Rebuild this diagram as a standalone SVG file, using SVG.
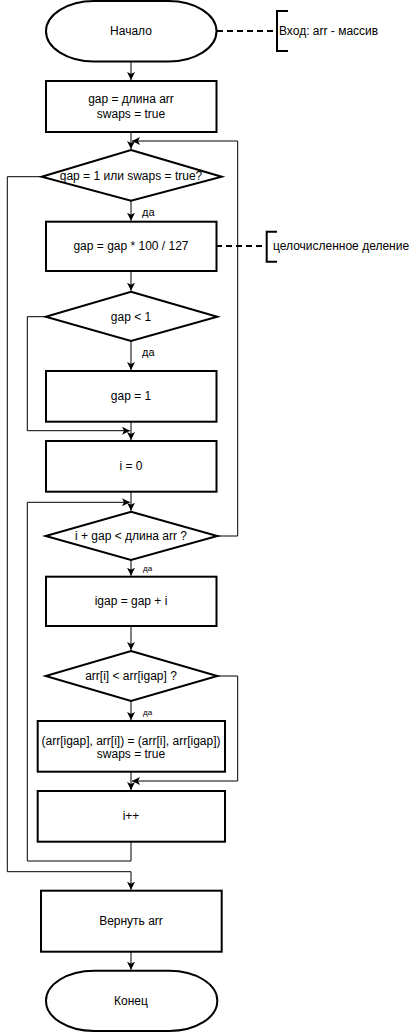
<svg xmlns="http://www.w3.org/2000/svg" width="417" height="1032" viewBox="0 0 417 1032">
<style>
.s{fill:#fff;stroke:#000;stroke-width:2}
.c{fill:none;stroke:#000;stroke-width:1}
.a{marker-end:url(#arr)}
.d{fill:none;stroke:#000;stroke-width:2;stroke-dasharray:6 4}
.b{fill:none;stroke:#000;stroke-width:2}
text{font-family:"Liberation Sans",Arial,sans-serif;font-size:12px;fill:#000;text-anchor:middle;dominant-baseline:central}
.l{text-anchor:start}
.sm{font-size:8px;text-anchor:start}
.yl{font-size:11px;text-anchor:start}
</style>
<defs>
<marker id="arr" markerUnits="userSpaceOnUse" markerWidth="10" markerHeight="10" refX="8" refY="4" orient="auto">
<path d="M0,0 L8,4 L0,8 L2,4 z" fill="#000"/>
</marker>
</defs>
<g id="connectors">
<path class="c a" d="M131,62 V80"/>
<path class="c a" d="M131,132 V149"/>
<path class="c a" d="M217.3,536 H237.7 V141 H132"/>
<path class="c a" d="M131,200.7 V220.7"/>
<path class="c a" d="M131,271 V290.7"/>
<path class="c a" d="M131,341 V370"/>
<path class="c a" d="M45.7,316.7 H27.3 V430.7 H130"/>
<path class="c a" d="M131,421.7 V440"/>
<path class="c a" d="M131,491.7 V510.7"/>
<path class="c a" d="M131,560 V575.7"/>
<path class="c a" d="M131,626 V650"/>
<path class="c a" d="M131,701 V720"/>
<path class="c a" d="M217.3,676 H237.7 V781 H132"/>
<path class="c a" d="M131,771.7 V790"/>
<path class="c a" d="M131,841.7 V861 H27.3 V502.3 H130"/>
<path class="c a" d="M41.7,176.7 H7.3 V871.7 H131 V889.7"/>
<path class="c a" d="M131,951.7 V969.7"/>
<text class="yl" x="142" y="212">да</text>
<text class="yl" x="142" y="352">да</text>
<text class="sm" x="143" y="568">да</text>
<text class="sm" x="143" y="712">да</text>
</g>
<g id="note-input">
<path class="d" d="M217,31 H276"/>
<path class="b" d="M288,11 H277 V51 H288"/>
<text class="l" x="279" y="31">Вход: arr - массив</text>
</g>
<g id="note-div">
<path class="d" d="M216,246 H266"/>
<path class="b" d="M277,231.7 H266.7 V261.7 H277"/>
<text class="l" x="273" y="246">целочисленное деление</text>
</g>
<g id="start">
<rect class="s" x="46" y="1" width="170.5" height="60.5" rx="48" ry="30.25"/>
<text x="131" y="31">Начало</text>
</g>
<g id="init">
<rect class="s" x="46" y="81" width="170.5" height="51"/>
<text x="131" y="99">gap = длина arr</text>
<text x="131" y="114">swaps = true</text>
</g>
<g id="cond-loop">
<path class="s" d="M131,150 L221.7,176.7 L131,200.7 L41.7,176.7 Z"/>
<text x="131" y="176">gap = 1 или swaps = true?</text>
</g>
<g id="shrink">
<rect class="s" x="46" y="221.7" width="170.5" height="49.3"/>
<text x="131" y="246">gap = gap * 100 / 127</text>
</g>
<g id="cond-gap">
<path class="s" d="M131,291.7 L217.3,316.7 L131,341 L45.7,316.7 Z"/>
<text x="131" y="316.5">gap &lt; 1</text>
</g>
<g id="gap-one">
<rect class="s" x="46" y="371" width="170.5" height="50.7"/>
<text x="131" y="396">gap = 1</text>
</g>
<g id="i-zero">
<rect class="s" x="46" y="441" width="170.5" height="50.7"/>
<text x="131" y="466">i = 0</text>
</g>
<g id="cond-i">
<path class="s" d="M131,511.7 L217.3,536 L131,560 L45.7,536 Z"/>
<text x="131" y="536">i + gap &lt; длина arr ?</text>
</g>
<g id="igap">
<rect class="s" x="46" y="576.7" width="170.5" height="49.3"/>
<text x="131" y="601">igap = gap + i</text>
</g>
<g id="cond-cmp">
<path class="s" d="M131,651 L217.3,676 L131,701 L45.7,676 Z"/>
<text x="131" y="676">arr[i] &lt; arr[igap] ?</text>
</g>
<g id="swap">
<rect class="s" x="37.7" y="721" width="187.3" height="50.7"/>
<text x="131" y="740.7">(arr[igap], arr[i]) = (arr[i], arr[igap])</text>
<text x="131" y="754">swaps = true</text>
</g>
<g id="inc">
<rect class="s" x="37.7" y="791" width="187.3" height="50.7"/>
<text x="131" y="816">i++</text>
</g>
<g id="ret">
<rect class="s" x="41" y="890.7" width="180.7" height="61"/>
<text x="131" y="921">Вернуть arr</text>
</g>
<g id="end">
<rect class="s" x="46" y="970.7" width="171.3" height="60.3" rx="48" ry="30"/>
<text x="131" y="1001">Конец</text>
</g>
</svg>
